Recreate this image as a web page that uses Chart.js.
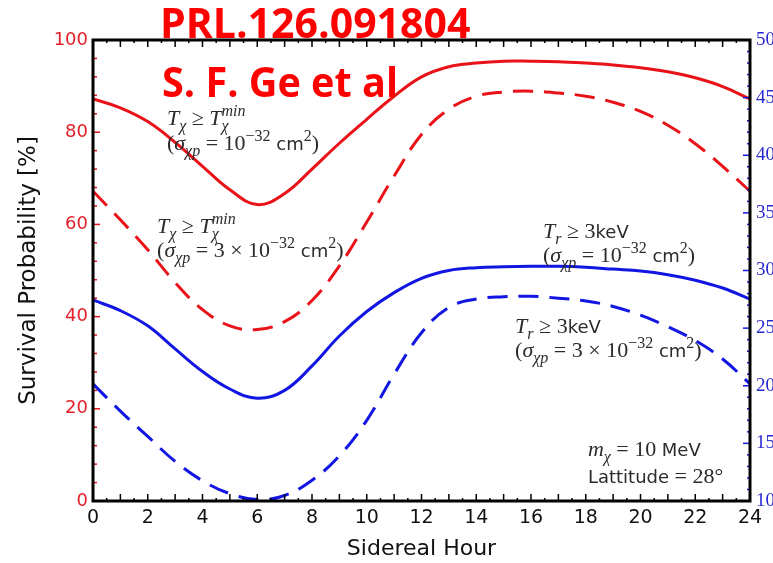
<!DOCTYPE html>
<html>
<head>
<meta charset="utf-8">
<script src="https://cdn.jsdelivr.net/npm/chart.js@4.4.1/dist/chart.umd.min.js"></script>
<style>
  html, body { margin: 0; padding: 0; background: #fff; overflow: hidden; }
  #chart { display: block; }
</style>
</head>
<body>
<canvas id="chart" width="773" height="563"></canvas>
<script>
// Sidereal hour (x) and survival probability in % (left axis)
const hours = [0, 1, 2, 3, 4, 5, 6, 7, 8, 9, 10, 11, 12, 13, 14, 15, 16, 17, 18, 19, 20, 21, 22, 23, 24];
const redSolid = [87.2, 85.3, 82.3, 77.8, 72.6, 67.5, 64.3, 66.7, 72.0, 77.6, 82.8, 87.8, 92.0, 94.2, 95.0, 95.4, 95.4, 95.3, 95.0, 94.6, 94.0, 93.1, 91.8, 89.9, 87.2];
const redDashed = [67.2, 61.0, 54.5, 47.4, 41.5, 38.0, 37.2, 38.9, 43.5, 51.0, 60.5, 70.5, 79.5, 85.0, 87.8, 88.7, 88.9, 88.5, 87.8, 86.5, 84.5, 81.5, 77.5, 72.6, 67.2];
const blueSolid = [43.6, 41.3, 38.0, 33.0, 28.1, 24.3, 22.3, 24.0, 29.3, 35.8, 41.1, 45.2, 48.3, 50.0, 50.6, 50.8, 50.9, 50.9, 50.7, 50.3, 49.9, 49.1, 47.9, 46.2, 43.8];
const blueDashed = [25.4, 19.5, 14.0, 8.6, 4.4, 1.6, 0.3, 1.2, 4.5, 9.8, 17.5, 27.5, 36.5, 42.0, 43.8, 44.3, 44.4, 44.0, 43.4, 42.2, 40.3, 37.8, 34.8, 30.8, 25.4];

const RED = 'rgb(232,18,24)';
const BLUE = 'rgb(18,22,226)';

// text labels inside the plot, anchored in data units (hour, %)
const notes = [
  { x: 2.70, y: 81.6, runs: [['T', 'i'], ['χ', 'i', -1], [' ≥ ', 'r'], ['T', 'i'], ['min', 'i', 1, true], ['χ', 'i', -1]] },
  { x: 2.70, y: 76.1, runs: [['(', 'r'], ['σ', 'i'], ['χp', 'i', -1], [' = 10', 'r'], ['−32', 'r', 1], [' cm', 's'], ['2', 'r', 1], [')', 'r']] },
  { x: 2.34, y: 58.1, runs: [['T', 'i'], ['χ', 'i', -1], [' ≥ ', 'r'], ['T', 'i'], ['min', 'i', 1, true], ['χ', 'i', -1]] },
  { x: 2.34, y: 52.9, runs: [['(', 'r'], ['σ', 'i'], ['χp', 'i', -1], [' = 3 × 10', 'r'], ['−32', 'r', 1], [' cm', 's'], ['2', 'r', 1], [')', 'r']] },
  { x: 16.44, y: 57.0, runs: [['T', 'i'], ['r', 'i', -1], [' ≥ 3', 'r'], ['keV', 's']] },
  { x: 16.44, y: 51.8, runs: [['(', 'r'], ['σ', 'i'], ['χp', 'i', -1], [' = 10', 'r'], ['−32', 'r', 1], [' cm', 's'], ['2', 'r', 1], [')', 'r']] },
  { x: 15.42, y: 36.4, runs: [['T', 'i'], ['r', 'i', -1], [' ≥ 3', 'r'], ['keV', 's']] },
  { x: 15.42, y: 31.2, runs: [['(', 'r'], ['σ', 'i'], ['χp', 'i', -1], [' = 3 × 10', 'r'], ['−32', 'r', 1], [' cm', 's'], ['2', 'r', 1], [')', 'r']] },
  { x: 18.08, y: 9.8, runs: [['m', 'i'], ['χ', 'i', -1], [' = 10 ', 'r'], ['MeV', 's']] },
  { x: 18.08, y: 3.9, runs: [['Lattitude', 's'], [' = 28°', 'r']] }
];

function pts(arr) {
  return hours.map((h, i) => ({ x: h, y: arr[i] }));
}

function fontFor(kind, size) {
  if (kind === 'i') return 'italic ' + size + 'px "Liberation Serif"';
  if (kind === 's') return size + 'px "DejaVu Sans"';
  return size + 'px "Liberation Serif"';
}

function drawRuns(ctx, x, y, runs) {
  const base = 22;
  let cx = x;
  let held = 0;
  ctx.fillStyle = '#2b2b2b';
  ctx.textBaseline = 'alphabetic';
  ctx.textAlign = 'left';
  for (const r of runs) {
    const [t, kind, pos, keep] = r;
    let size = kind === 's' ? 18 : base;
    let dy = 0;
    if (pos === 1) { size = Math.round(base * 0.72); dy = -9; }
    if (pos === -1) { size = Math.round(base * 0.72); dy = 6; }
    ctx.font = fontFor(kind, size);
    ctx.fillText(t, cx, y + dy);
    const w = ctx.measureText(t).width;
    if (keep) { held = w; continue; }
    cx += Math.max(w, held);
    held = 0;
  }
}

const framePlugin = {
  id: 'frame',
  afterDatasetsDraw(chart) {
    const ctx = chart.ctx;
    const a = chart.chartArea;
    const xs = chart.scales.x, yl = chart.scales.y, yr = chart.scales.y2;
    ctx.save();

    // ticks pointing inward
    ctx.lineWidth = 1.5;
    ctx.strokeStyle = '#000';
    for (let h = 0; h <= 24; h += 0.5) {
      const px = xs.getPixelForValue(h);
      const len = Number.isInteger(h) ? 7 : 3;
      ctx.beginPath();
      ctx.moveTo(px, a.bottom); ctx.lineTo(px, a.bottom - len);
      ctx.moveTo(px, a.top); ctx.lineTo(px, a.top + len);
      ctx.stroke();
    }
    ctx.strokeStyle = RED;
    for (let v = 0; v <= 100; v += 4) {
      const py = yl.getPixelForValue(v);
      const len = v % 20 === 0 ? 7 : 4;
      ctx.beginPath();
      ctx.moveTo(a.left, py); ctx.lineTo(a.left + len, py);
      ctx.stroke();
    }
    ctx.strokeStyle = BLUE;
    for (let v = 10; v <= 50; v += 1) {
      const py = yr.getPixelForValue(v);
      const len = v % 5 === 0 ? 7 : 3;
      ctx.beginPath();
      ctx.moveTo(a.right, py); ctx.lineTo(a.right - len, py);
      ctx.stroke();
    }

    // frame
    ctx.lineWidth = 3;
    ctx.strokeStyle = '#000';
    ctx.strokeRect(a.left, a.top, a.right - a.left, a.bottom - a.top);

    // notes
    for (const n of notes) {
      drawRuns(ctx, xs.getPixelForValue(n.x), yl.getPixelForValue(n.y), n.runs);
    }
    ctx.restore();
  },
  afterDraw(chart) {
    const ctx = chart.ctx;
    ctx.save();
    ctx.fillStyle = '#ff0000';
    ctx.font = 'bold 41px "Open Sans"';
    ctx.textAlign = 'left';
    ctx.textBaseline = 'alphabetic';
    ctx.fillText('PRL.126.091804', 160, 38, 318);
    ctx.fillText('S. F. Ge et al', 162, 97, 236);
    ctx.restore();
  }
};

function lineSet(data, color, dashed) {
  return {
    data: pts(data),
    borderColor: color,
    borderWidth: 3,
    borderDash: dashed ? [20, 11] : [],
    pointRadius: 0,
    fill: false,
    tension: 0.4,
    yAxisID: 'y'
  };
}

new Chart(document.getElementById('chart'), {
  type: 'line',
  data: {
    datasets: [
      lineSet(redSolid, RED, false),
      lineSet(redDashed, RED, true),
      lineSet(blueSolid, BLUE, false),
      lineSet(blueDashed, BLUE, true)
    ]
  },
  options: {
    responsive: false,
    animation: false,
    layout: { padding: { top: 40, left: 0, right: 0, bottom: 0 } },
    plugins: { legend: { display: false }, tooltip: { enabled: false } },
    scales: {
      x: {
        type: 'linear',
        min: 0,
        max: 24,
        grid: { display: false, drawTicks: false },
        border: { display: false },
        ticks: { stepSize: 2, color: '#111', padding: 6, font: { family: 'DejaVu Sans', size: 19 } },
        title: { display: true, text: 'Sidereal Hour', color: '#111', font: { family: 'DejaVu Sans', size: 22 }, padding: { top: 0, bottom: 1 } },
        afterFit(s) { s.height = 62; }
      },
      y: {
        position: 'left',
        min: 0,
        max: 100,
        grid: { display: false, drawTicks: false },
        border: { display: false },
        ticks: { stepSize: 20, color: 'rgb(228,32,40)', padding: 5, font: { family: 'DejaVu Sans', size: 18 } },
        title: { display: true, text: 'Survival Probability [%]', color: '#111', font: { family: 'DejaVu Sans', size: 23 }, padding: { top: 15, bottom: 0 } },
        afterFit(s) { s.width = 93; }
      },
      y2: {
        position: 'right',
        min: 10,
        max: 50,
        grid: { display: false, drawTicks: false },
        border: { display: false },
        ticks: { stepSize: 5, color: 'rgb(40,40,210)', padding: 6, font: { family: 'Liberation Serif', size: 19 } },
        afterFit(s) { s.width = 23; }
      }
    }
  },
  plugins: [framePlugin]
});
</script>
</body>
</html>
